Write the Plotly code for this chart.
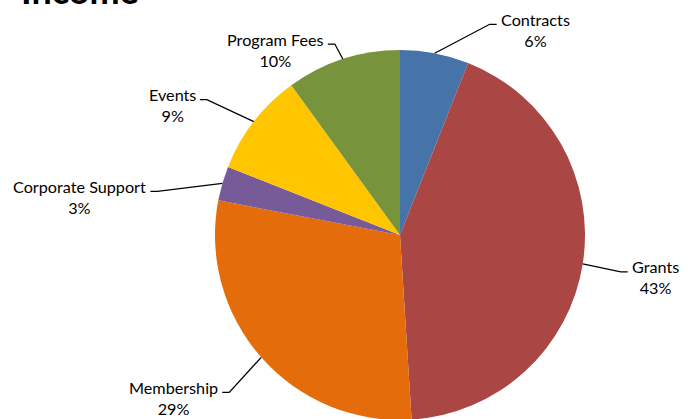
import math
import plotly.graph_objects as go

# ---- data ----
categories = ["Contracts", "Grants", "Membership", "Corporate Support", "Events", "Program Fees"]
shares = [6, 43, 29, 3, 9, 10]
colors = ["#4674A8", "#AA4643", "#E46C0A", "#775A98", "#FFC600", "#77933C"]
title_text = "Income"

# ---- layout / style ----
W, H = 695, 440          # page is photographed at 695x419 so the bottom is clipped
CX, CY, R = 400, 235, 185  # pie centre & radius in pixels
FONT = "Lato"
FS = 16.2
# leader-line end offsets (pixels, relative to slice edge anchor)
line_end_offsets = [(62, -29), (45, 8), (-39, 35), (-72, 8), (-54, -22), (-15, -15)]


def px2paper(px, py):
    return px / W, 1 - py / H


fig = go.Figure(go.Pie(
    labels=categories,
    values=shares,
    sort=False,
    direction="clockwise",
    rotation=0,
    marker=dict(colors=colors, line=dict(width=0)),
    textinfo="none",
    hoverinfo="label+percent",
    domain=dict(x=[(CX - R) / W, (CX + R) / W], y=[1 - (CY + R) / H, 1 - (CY - R) / H]),
    showlegend=False,
))

total = sum(shares)
cum = 0
shapes = []
annotations = []
for name, v, (ex, ey) in zip(categories, shares, line_end_offsets):
    mid = (cum + v / 2) / total * 2 * math.pi
    cum += v
    ax_ = CX + R * math.sin(mid)
    ay_ = CY - R * math.cos(mid)
    endx, endy = ax_ + ex, ay_ + ey
    right = ex > 0
    elbx = endx - 7 if right else endx + 7
    p0 = px2paper(ax_, ay_)
    p1 = px2paper(elbx, endy)
    p2 = px2paper(endx, endy)
    shapes.append(dict(type="path", xref="paper", yref="paper",
                       path=f"M {p0[0]} {p0[1]} L {p1[0]} {p1[1]} L {p2[0]} {p2[1]}",
                       line=dict(color="black", width=1.3)))
    tx, ty = px2paper(endx + (2 if right else -2), endy + 5.5)
    pct = round(v / total * 100)
    annotations.append(dict(xref="paper", yref="paper", x=tx, y=ty,
                            xanchor="left" if right else "right", yanchor="middle",
                            text=f"{name}<br>{pct}%", align="center", showarrow=False,
                            font=dict(family=FONT, size=FS, color="black")))

tx, ty = px2paper(80, 14)
annotations.append(dict(xref="paper", yref="paper", x=tx, y=ty, xanchor="center", yanchor="bottom",
                        text=f"<b>{title_text}</b>", showarrow=False,
                        font=dict(family=FONT, size=36, color="black")))

fig.update_layout(
    width=W, height=H,
    margin=dict(l=0, r=0, t=0, b=0),
    paper_bgcolor="white", plot_bgcolor="white",
    shapes=shapes, annotations=annotations,
)

fig.write_html("out.html", config={"displayModeBar": False},
               post_script="document.body.style.margin='0px';")
